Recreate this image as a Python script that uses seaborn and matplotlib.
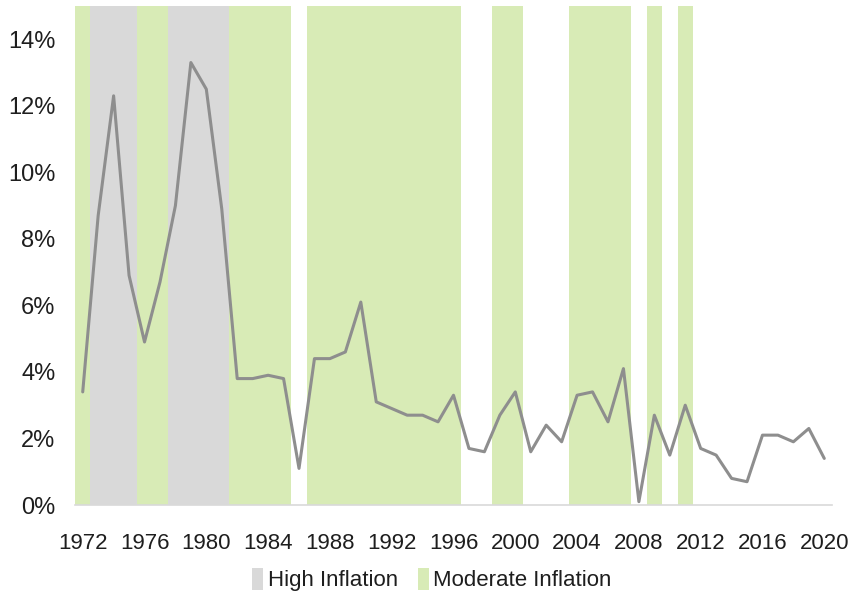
import matplotlib
matplotlib.use("Agg")
import matplotlib.pyplot as plt
from matplotlib.patches import Patch
from matplotlib.ticker import FuncFormatter, FixedLocator
import seaborn as sns
import pandas as pd

# Annual inflation rate (%), 1972-2020
years = list(range(1972, 2021))
inflation = [3.4, 8.7, 12.3, 6.9, 4.9, 6.7, 9.0, 13.3, 12.5, 8.9,
             3.8, 3.8, 3.9, 3.8, 1.1, 4.4, 4.4, 4.6, 6.1, 3.1,
             2.9, 2.7, 2.7, 2.5, 3.3, 1.7, 1.6, 2.7, 3.4, 1.6,
             2.4, 1.9, 3.3, 3.4, 2.5, 4.1, 0.1, 2.7, 1.5, 3.0,
             1.7, 1.5, 0.8, 0.7, 2.1, 2.1, 1.9, 2.3, 1.4]

# Inflation regime of each year ("High", "Moderate" or "" for none)
regime = ["Moderate", "High", "High", "High", "Moderate", "Moderate",
          "High", "High", "High", "High",
          "Moderate", "Moderate", "Moderate", "Moderate", "",
          "Moderate", "Moderate", "Moderate", "Moderate", "Moderate",
          "Moderate", "Moderate", "Moderate", "Moderate", "Moderate",
          "", "", "Moderate", "Moderate", "", "", "",
          "Moderate", "Moderate", "Moderate", "Moderate", "",
          "Moderate", "", "Moderate",
          "", "", "", "", "", "", "", "", ""]

legend_labels = ["High Inflation", "Moderate Inflation"]
tick_years = list(range(1972, 2021, 4))
y_ticks = [0, 2, 4, 6, 8, 10, 12, 14]

df = pd.DataFrame({"year": years, "inflation": inflation, "regime": regime})

band_colors = {"High": "#d9d9d9", "Moderate": "#d8ebb6"}
line_color = "#8e8e8e"
text_color = "#1e1e1e"

sns.set_theme(style="white")
plt.rcParams["font.family"] = ["Liberation Sans", "DejaVu Sans"]

fig = plt.figure(figsize=(8.55, 5.99), dpi=100)
ax = fig.add_axes([75 / 855, 1 - 505 / 599, (832 - 75) / 855, (505 - 6) / 599])

# Shaded regime bands, one per year
for yr, rg in zip(df["year"], df["regime"]):
    if rg:
        ax.axvspan(yr - 0.5, yr + 0.5, color=band_colors[rg], lw=0, zorder=0)

sns.lineplot(data=df, x="year", y="inflation", color=line_color,
             linewidth=2.2, ax=ax, zorder=3)

ax.set_xlim(years[0] - 0.5, years[-1] + 0.5)
ax.set_ylim(0, 15)
ax.xaxis.set_major_locator(FixedLocator(tick_years))
ax.yaxis.set_major_locator(FixedLocator(y_ticks))
ax.yaxis.set_major_formatter(FuncFormatter(lambda v, _: f"{v:.0f}%"))
ax.set_xlabel("")
ax.set_ylabel("")

for s in ["top", "right", "left"]:
    ax.spines[s].set_visible(False)
ax.spines["bottom"].set_color("#d9d9d9")
ax.spines["bottom"].set_linewidth(1.2)

ax.tick_params(axis="x", length=0, pad=20, labelsize=16, labelcolor=text_color)
ax.tick_params(axis="y", length=0, pad=14, labelsize=17, labelcolor=text_color)

handles = [Patch(facecolor=band_colors["High"], edgecolor="none"),
           Patch(facecolor=band_colors["Moderate"], edgecolor="none")]
fig.legend(handles, legend_labels, loc="center", bbox_to_anchor=(0.505, 0.032),
           ncol=2, frameon=False, fontsize=16, handlelength=0.5, handleheight=1.1,
           handletextpad=0.2, columnspacing=0.9, labelcolor=text_color)

fig.savefig("out.png", dpi=100)
